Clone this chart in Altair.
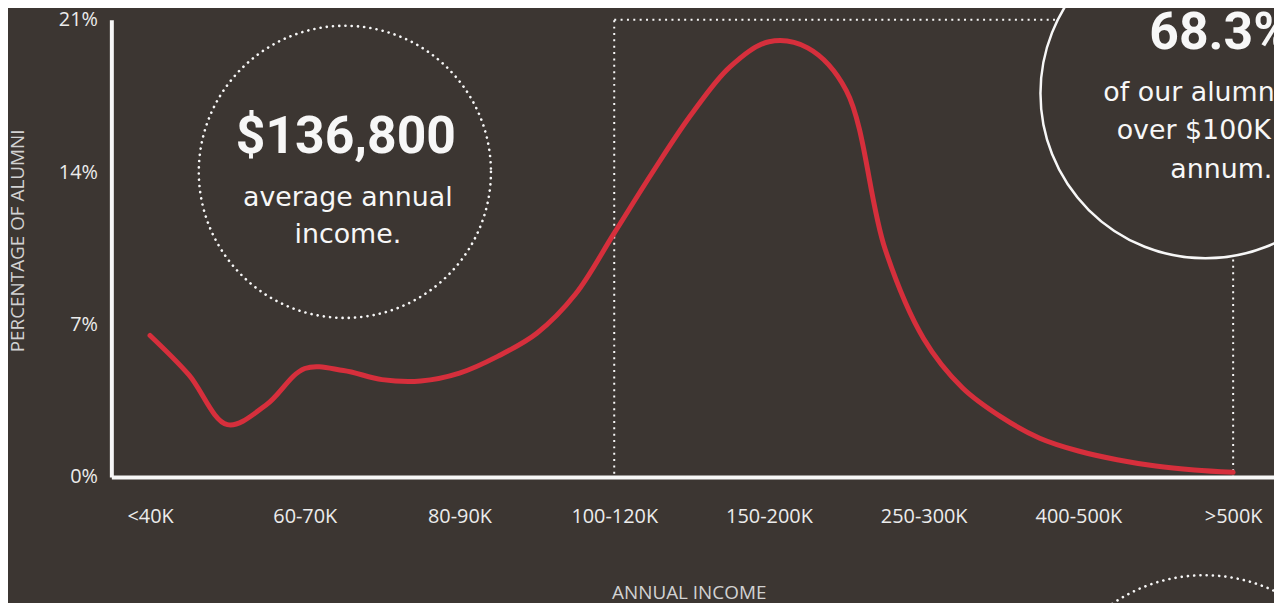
import altair as alt
import pandas as pd

positions = [0, 0.25, 0.5, 0.75, 1, 1.25, 1.5, 1.75, 2, 2.25, 2.5, 2.75, 3, 3.25, 3.5, 3.75,
             4, 4.25, 4.5, 4.75, 5, 5.25, 5.5, 5.75, 6, 6.25, 6.5, 6.75, 7]
share = [6.5, 4.7, 2.4, 3.3, 4.98, 4.89, 4.47, 4.41, 4.77, 5.55, 6.6, 8.4, 11.2, 14.02,
         16.67, 18.85, 19.99, 19.71, 17.75, 10.48, 6.35, 4.1, 2.76, 1.78, 1.19, 0.79, 0.5,
         0.32, 0.21]
tick_labels = ["<40K", "60-70K", "80-90K", "100-120K", "150-200K", "250-300K", "400-500K", ">500K"]
tick_positions = [0, 1, 2, 3, 4, 5, 6, 7]
y_ticks = [0, 7, 14, 21]
highlight_start = [3]   # 100-120K
highlight_end = [7]     # >500K
highlight_low = [0]
highlight_high = [21]

BG = "#3c3632"
RED = "#d62f3c"
WHITE = "#f7f7f7"
LABEL = "#ececec"
TITLE = "#d2d2d2"

curve_df = pd.DataFrame({"pos": positions, "share": share})
hl_df = pd.DataFrame({"x": highlight_start, "x2": highlight_end,
                      "y": highlight_low, "y2": highlight_high})
one = pd.DataFrame({"a": [0]})

label_js = "[" + ",".join("'" + t + "'" for t in tick_labels) + "][datum.value]"

xscale = alt.Scale(domain=[-0.25, 7.264], nice=False, zero=False)
yscale = alt.Scale(domain=[0, 21], nice=False, zero=True)

xaxis = alt.Axis(values=tick_positions, labelExpr=label_js, title="ANNUAL INCOME",
                 grid=False, ticks=False, tickSize=0, domainColor=WHITE, domainWidth=4,
                 labelFont="Open Sans", labelFontSize=20, labelColor=LABEL, labelPadding=30,
                 labelAngle=0,
                 titleFont="Open Sans", titleFontSize=19, titleFontWeight="normal",
                 titleColor=TITLE, titleX=581, titleY=116, titleAlign="center",
                 titleBaseline="middle")
yaxis = alt.Axis(values=y_ticks, labelExpr="datum.value + '%'", title="PERCENTAGE OF ALUMNI",
                 grid=False, ticks=False, tickSize=0, domainColor=WHITE, domainWidth=4,
                 labelFont="Open Sans", labelFontSize=20, labelColor=LABEL, labelPadding=14,
                 titleFont="Open Sans", titleFontSize=19, titleFontWeight="normal",
                 titleColor=TITLE, titleAngle=-90, titleX=-94, titleY=222,
                 titleAlign="center", titleBaseline="middle")

rect = alt.Chart(hl_df).mark_rect(fillOpacity=0, stroke=WHITE, strokeWidth=2,
                                  strokeDash=[2, 4.4]).encode(
    x=alt.X("x:Q", scale=xscale, axis=xaxis),
    x2="x2:Q",
    y=alt.Y("y:Q", scale=yscale, axis=yaxis),
    y2="y2:Q",
)

curve = alt.Chart(curve_df).mark_line(interpolate="catmull-rom", color=RED, strokeWidth=5,
                                      strokeCap="round").encode(
    x=alt.X("pos:Q", scale=xscale, axis=xaxis),
    y=alt.Y("share:Q", scale=yscale, axis=yaxis),
)


def dotted_circle(cx, cy, r):
    return alt.Chart(one).mark_point(shape="circle", filled=False, size=(2 * r) ** 2,
                                     stroke=WHITE, strokeWidth=2.6, strokeDash=[0.1, 6.2],
                                     strokeCap="round", opacity=1).encode(
        x=alt.value(cx), y=alt.value(cy))


circle_left = dotted_circle(235, 153, 147)
circle_bottom = dotted_circle(1100, 723, 164)

circle_big = alt.Chart(one).mark_point(shape="circle", filled=True, size=332 ** 2,
                                       fill=BG, stroke=WHITE, strokeWidth=2.5,
                                       fillOpacity=1, strokeOpacity=1, opacity=1).encode(
    x=alt.value(1101), y=alt.value(74))


def txt(s, x, y, size, bold=False, font="DejaVu Sans"):
    return alt.Chart(one).mark_text(text=s, font=font, fontSize=size,
                                    fontWeight="bold" if bold else "normal",
                                    color=WHITE, align="center", baseline="alphabetic").encode(
        x=alt.value(x), y=alt.value(y))


texts = [
    txt("$136,800", 236, 134, 52, True, "Roboto"),
    txt("average annual", 238, 187, 27),
    txt("income.", 238, 225, 27),
    txt("68.3%", 1116, 29, 52, True, "Roboto"),
    txt("of our alumni earn", 1123, 82, 27),
    txt("over $100K per", 1116, 120, 27),
    txt("annum.", 1117, 159, 27),
]

chart = alt.layer(rect, curve, circle_left, circle_bottom, circle_big, *texts).properties(
    width=1170, height=460,
    background=BG,
    autosize=alt.AutoSizeParams(type="none"),
    padding={"left": 104, "top": 10, "right": 0, "bottom": 125},
).configure_view(stroke=None)

chart.save("out.html", embed_options={"renderer": "svg", "actions": False})
